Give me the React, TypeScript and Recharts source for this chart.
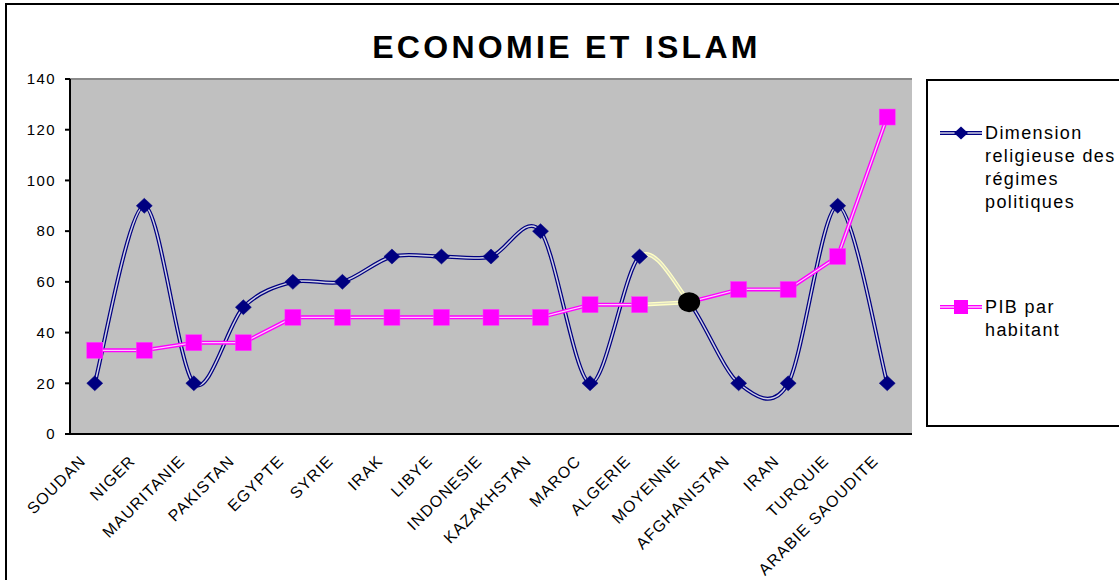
import React from 'react';
import { LineChart, Line, XAxis, YAxis, ReferenceLine, CartesianGrid, Legend } from 'recharts';

const countries = ['SOUDAN', 'NIGER', 'MAURITANIE', 'PAKISTAN', 'EGYPTE', 'SYRIE', 'IRAK', 'LIBYE', 'INDONESIE', 'KAZAKHSTAN', 'MAROC', 'ALGERIE', 'MOYENNE', 'AFGHANISTAN', 'IRAN', 'TURQUIE', 'ARABIE SAOUDITE'];
const religion = [20, 90, 20, 50, 60, 60, 70, 70, 70, 80, 20, 70, 52, 20, 20, 90, 20];
const pib = [33, 33, 36, 36, 46, 46, 46, 46, 46, 46, 51, 51, 52, 57, 57, 70, 125];
const yTicks = [0, 20, 40, 60, 80, 100, 120, 140];
const seriesNames = ['Dimension religieuse des régimes politiques', 'PIB par habitant'];
const title = 'ECONOMIE ET ISLAM';
const averageLabel = 'MOYENNE';
const highlightFrom = 'ALGERIE';

const data = countries.map((c, i) => ({ pays: c, religion: religion[i], pib: pib[i] }));
const edges = Array.from({ length: countries.length + 1 }, (_, i) => i);

const FONT = '"Liberation Sans", Arial, Helvetica, sans-serif';
const BLUE = '#000080';
const BLUE_IN = '#d0d0e4';
const PINK = '#ff00ff';
const PINK_IN = '#ffc8ff';
const YEL = '#ffffc4';
const YEL_IN = '#dcdcc4';

const nSeg = countries.length - 1;
const fA = countries.indexOf(highlightFrom) / nSeg;
const fM = countries.indexOf(averageLabel) / nSeg;

// Excel-like smoothed curve (Catmull-Rom as cubic Bezier)
const smooth: any = (context: any) => {
  let pts: number[][] = [];
  const k = 1 / 6.5;
  return {
    areaStart() {},
    areaEnd() {},
    lineStart() { pts = []; },
    lineEnd() {
      if (!pts.length) return;
      context.moveTo(pts[0][0], pts[0][1]);
      for (let i = 0; i < pts.length - 1; i++) {
        const p0 = pts[Math.max(i - 1, 0)];
        const p1 = pts[i];
        const p2 = pts[i + 1];
        const p3 = pts[Math.min(i + 2, pts.length - 1)];
        context.bezierCurveTo(
          p1[0] + (p2[0] - p0[0]) * k, p1[1] + (p2[1] - p0[1]) * k,
          p2[0] - (p3[0] - p1[0]) * k, p2[1] - (p3[1] - p1[1]) * k,
          p2[0], p2[1]
        );
      }
    },
    point(x: number, y: number) { pts.push([+x, +y]); },
  };
};

const Grad = ({ id, base, hi }: any) => (
  <linearGradient id={id} x1="0" y1="0" x2="1" y2="0">
    <stop offset={0} stopColor={base} />
    <stop offset={fA} stopColor={base} />
    <stop offset={fA} stopColor={hi} />
    <stop offset={fM} stopColor={hi} />
    <stop offset={fM} stopColor={base} />
    <stop offset={1} stopColor={base} />
  </linearGradient>
);

const Diamond = (props: any) => {
  const { cx, cy, index, payload } = props;
  if (cx == null || cy == null || payload.pays === averageLabel) return <g key={`d${index}`} />;
  return <polygon key={`d${index}`} points={`${cx},${cy - 7.5} ${cx + 8},${cy} ${cx},${cy + 7.5} ${cx - 8},${cy}`} fill={BLUE} stroke={BLUE} strokeWidth={0.5} />;
};

const Square = (props: any) => {
  const { cx, cy, index, payload } = props;
  if (cx == null || cy == null) return <g key={`s${index}`} />;
  if (payload.pays === averageLabel) {
    return <ellipse key={`s${index}`} cx={cx} cy={cy} rx={11} ry={10} fill="#000" />;
  }
  return <rect key={`s${index}`} x={cx - 8} y={cy - 8} width={16} height={16} fill={PINK} stroke="#ff40ff" strokeWidth={0.5} />;
};

const XTick = (props: any) => {
  const { x, y, payload } = props;
  const ax = x - 8;
  const ay = y + 28;
  return (
    <text x={ax} y={ay} transform={`rotate(-45 ${ax} ${ay})`} textAnchor="end" fontSize={16} fontFamily={FONT} letterSpacing={1.1} fill="#000">
      {payload.value}
    </text>
  );
};

const LegendIcon = ({ color, inner, kind }: any) => (
  <svg width={42} height={18} style={{ position: 'absolute', left: 0, top: 0, overflow: 'visible' }}>
    <line x1={0} y1={9} x2={42} y2={9} stroke={color} strokeWidth={4} />
    <line x1={0} y1={9} x2={42} y2={9} stroke={inner} strokeWidth={1.5} />
    {kind === 'diamond' ? (
      <polygon points="21,2.5 28,9 21,15.5 14,9" fill={color} />
    ) : (
      <rect x={14} y={2} width={14} height={14} fill={color} />
    )}
  </svg>
);

const LegendBox = () => {
  const items = [
    { name: seriesNames[0], color: BLUE, inner: BLUE_IN, kind: 'diamond', iconTop: 43, textTop: 40.5 },
    { name: seriesNames[1], color: PINK, inner: PINK_IN, kind: 'square', iconTop: 217, textTop: 214.5 },
  ];
  return (
    <div style={{ width: 260, height: 348, border: '2px solid #000', boxSizing: 'border-box', position: 'relative', background: '#fff', fontFamily: FONT, fontSize: 18, letterSpacing: 1.4, color: '#000' }}>
      {items.map((it) => (
        <React.Fragment key={it.name}>
          <div style={{ position: 'absolute', left: 12, top: it.iconTop, width: 42, height: 18 }}>
            <LegendIcon color={it.color} inner={it.inner} kind={it.kind} />
          </div>
          <div style={{ position: 'absolute', left: 57, top: it.textTop, width: 135, lineHeight: '23px' }}>{it.name}</div>
        </React.Fragment>
      ))}
    </div>
  );
};

export default function App() {
  return (
    <div style={{ position: 'absolute', left: 0, top: 0, width: 1119, height: 580, overflow: 'hidden', background: '#fff' }}>
      <div style={{ position: 'absolute', left: 5, top: 3, width: 1300, height: 800, border: '2px solid #000', boxSizing: 'border-box' }} />
      <div style={{ position: 'absolute', left: 0, top: 31, width: 1133, textAlign: 'center', fontFamily: FONT, fontWeight: 'bold', fontSize: 32, lineHeight: '32px', letterSpacing: 3.3, color: '#000', whiteSpace: 'nowrap' }}>
        {title}
      </div>
      <div style={{ position: 'absolute', left: 0, top: 0 }}>
        <LineChart width={1119} height={580} data={data} margin={{ top: 79, right: 207, bottom: 0, left: 0 }}>
          <defs>
            <Grad id="gBlue" base={BLUE} hi={YEL} />
            <Grad id="gBlueIn" base={BLUE_IN} hi={YEL_IN} />
            <Grad id="gPink" base={PINK} hi={YEL} />
            <Grad id="gPinkIn" base={PINK_IN} hi={YEL_IN} />
          </defs>
          <CartesianGrid fill="#c0c0c0" stroke="none" horizontal={false} vertical={false} />
          <XAxis dataKey="pays" scale="band" interval={0} tickLine={false} tickSize={0} tickMargin={0} height={146}
            axisLine={{ stroke: '#000', strokeWidth: 2 }} tick={<XTick />} />
          <XAxis xAxisId="edge" type="number" domain={[0, countries.length]} ticks={edges} interval={0} allowDataOverflow
            tick={false} tickSize={5} tickLine={{ stroke: '#000', strokeWidth: 2 }} axisLine={false} height={0} />
          <YAxis domain={[0, 140]} ticks={yTicks} interval={0} width={70} tickSize={5} tickMargin={9}
            axisLine={{ stroke: '#000', strokeWidth: 2 }} tickLine={{ stroke: '#000', strokeWidth: 2 }}
            tick={{ fill: '#000', fontSize: 15, fontFamily: FONT, letterSpacing: 1.4 }} />
          <YAxis yAxisId="r" orientation="right" domain={[0, 140]} width={0} tick={false} tickLine={false}
            axisLine={{ stroke: '#8a8a8a', strokeWidth: 2 }} />
          <ReferenceLine y={140} stroke="#8a8a8a" strokeWidth={2} />
          <Line dataKey="religion" type={smooth} stroke="url(#gBlue)" strokeWidth={4} dot={false} activeDot={false} isAnimationActive={false} legendType="none" />
          <Line dataKey="religion" type={smooth} stroke="url(#gBlueIn)" strokeWidth={1.5} dot={Diamond} activeDot={false} isAnimationActive={false} legendType="none" />
          <Line dataKey="pib" type="linear" stroke="url(#gPink)" strokeWidth={4} dot={false} activeDot={false} isAnimationActive={false} legendType="none" />
          <Line dataKey="pib" type="linear" stroke="url(#gPinkIn)" strokeWidth={1.3} dot={Square} activeDot={false} isAnimationActive={false} legendType="none" />
          <Legend layout="horizontal" align="center" verticalAlign="middle" width={260} height={348}
            wrapperStyle={{ left: 926, top: 79, width: 260, height: 348 }} content={() => <LegendBox />} />
        </LineChart>
      </div>
    </div>
  );
}
